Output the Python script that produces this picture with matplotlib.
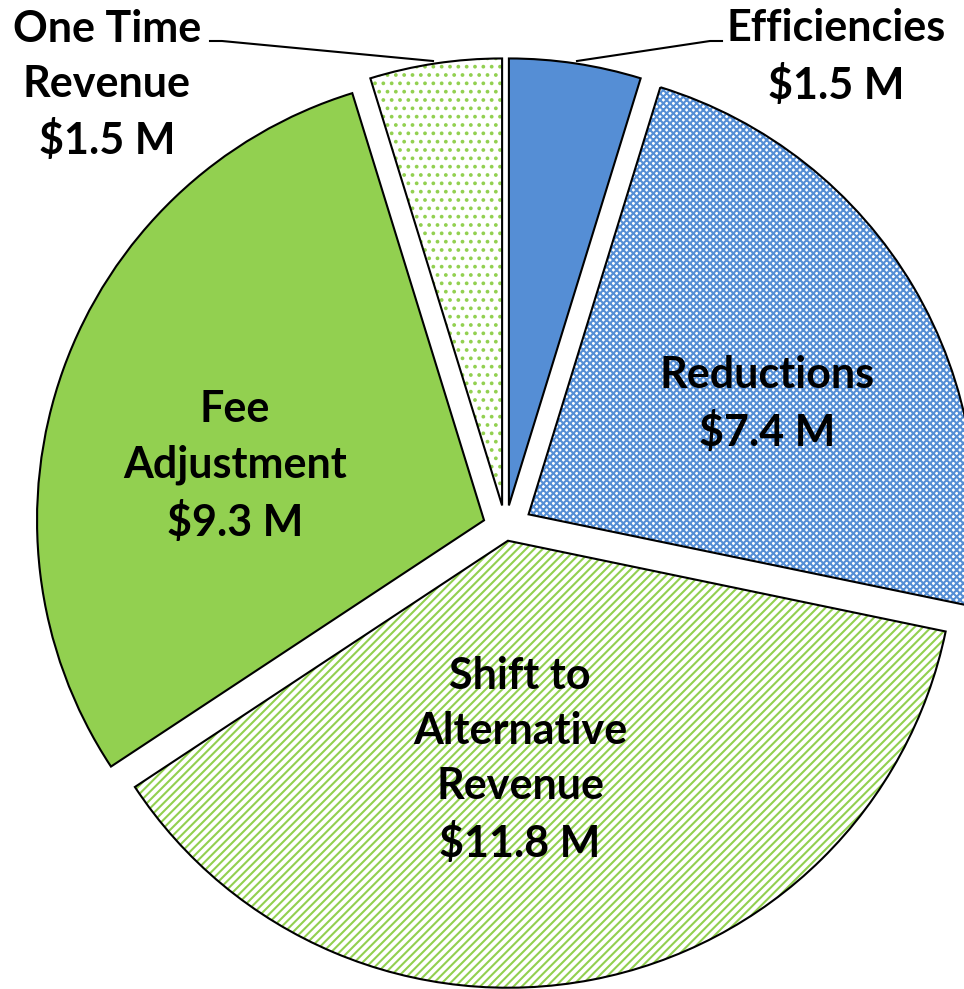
import matplotlib.pyplot as plt

plt.rcParams['font.family'] = ['Lato', 'DejaVu Sans']
plt.rcParams['hatch.linewidth'] = 1.5

# slices, clockwise from 12 o'clock
names = ['Efficiencies', 'Reductions', 'Shift to\nAlternative\nRevenue', 'Fee\nAdjustment', 'One Time\nRevenue']
values = [1.5, 7.4, 11.8, 9.3, 1.5]
amounts = ['$1.5 M', '$7.4 M', '$11.8 M', '$9.3 M', '$1.5 M']

blue = '#558ED5'
green = '#92D050'
face = [blue, 'white', 'white', green, 'white']
hatch_col = [blue, blue, green, green, green]
hatch = ['', 'xxxxx', '////', '', '..']
explode = [0.051, 0.06, 0.029, 0.051, 0.051]   # fraction of radius

# label centres (pixels, from top-left)
label_xy = [(836, 57), (767, 404), (520, 760), (235, 466), (107, 85)]

fig = plt.figure(figsize=(9.64, 9.89), dpi=100)
ax = fig.add_axes([0, 0, 1, 1])

ctr = (505.5, 528)
R = 447
expl = [e * R for e in explode]

# hatch layer (hatch colour comes from the edge colour)
w1, _ = ax.pie(values, colors=face, explode=expl, startangle=-90, counterclock=True,
               center=ctr, radius=R, wedgeprops=dict(linewidth=0))
for w, h, c in zip(w1, hatch, hatch_col):
    w.set_hatch(h)
    w.set_edgecolor(c)

# outline layer
ax.pie(values, colors=['none'] * 5, explode=expl, startangle=-90, counterclock=True,
       center=ctr, radius=R, wedgeprops=dict(linewidth=1.5, edgecolor='black', fill=False))

ax.set_xlim(0, 964)
ax.set_ylim(989, 0)
ax.set_aspect('equal')
ax.axis('off')

for (x, y), n, a in zip(label_xy, names, amounts):
    ax.text(x, y, n + '\n' + a, ha='center', va='center', fontsize=31,
            fontweight='bold', linespacing=1.45, color='black')

# leader lines for the two small slices
ax.plot([577, 710, 722], [61, 41, 41], color='black', lw=1.5)
ax.plot([433, 222, 210], [61, 41, 41], color='black', lw=1.5)

fig.savefig('out.png', dpi=100)
